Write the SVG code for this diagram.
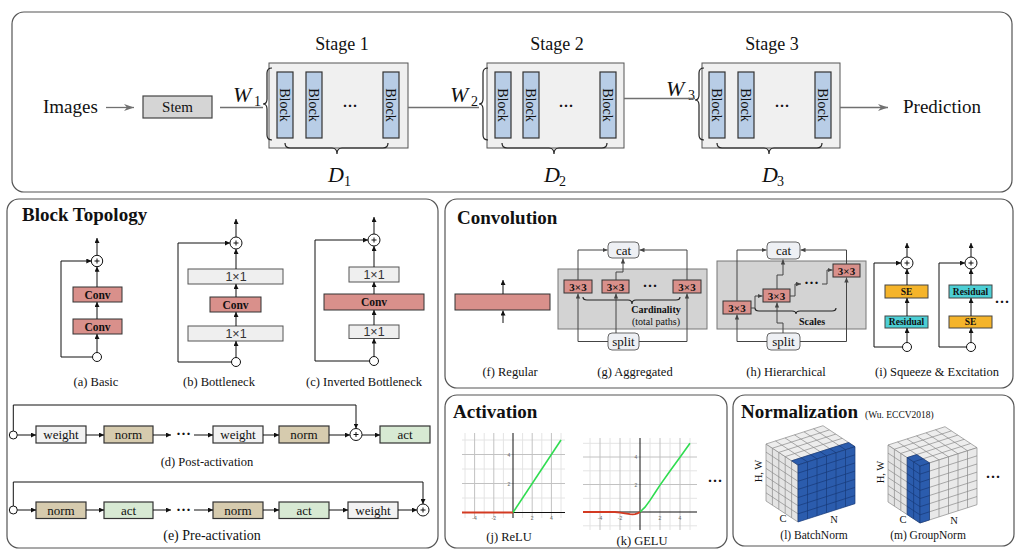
<svg xmlns="http://www.w3.org/2000/svg" width="1024" height="556" viewBox="0 0 1024 556">
<defs>
<style>
text{font-family:"Liberation Serif","Times New Roman",serif;fill:#111}
.panel{fill:#fff;stroke:#555;stroke-width:1.2}
.ttl{font-size:19px;font-weight:bold}
.cap{font-size:12.5px;text-anchor:middle}
.stage{fill:#f0f0f0;stroke:#555;stroke-width:1}
.blk{fill:#b8cde6;stroke:#333;stroke-width:1.2}
.btxt{font-size:14px;text-anchor:middle}
.gl{stroke:#707070;stroke-width:1.3;fill:none}
.brace{stroke:#222;stroke-width:1.2;fill:none}
.math{font-size:22px;font-style:italic}
.sub{font-size:14px}
.ln{stroke:#111;stroke-width:1;fill:none}
.dl{stroke:#444;stroke-width:1;fill:none}
.conv{fill:#d9908b;stroke:#333;stroke-width:1}
.one{fill:#efefef;stroke:#555;stroke-width:1}
.wt{fill:#f2f2f2;stroke:#333;stroke-width:1.2}
.nm{fill:#d6cbae;stroke:#333;stroke-width:1.2}
.ac{fill:#d7e9d3;stroke:#333;stroke-width:1.2}
.node{fill:#fff;stroke:#111;stroke-width:1}
.cs{fill:#eef0f4;stroke:#666;stroke-width:1}
.grey{fill:#d3d3d3;stroke:#777;stroke-width:1}
.ctxt{font-size:13px;text-anchor:middle}
.bt{font-size:11.5px;font-weight:bold;text-anchor:middle}
.t33{font-size:11px;font-weight:bold;text-anchor:middle}
.sans{font-family:"Liberation Sans",Arial,sans-serif;font-size:12.5px;text-anchor:middle;fill:#333}
.se{fill:#f5b42a;stroke:#444;stroke-width:1}
.res{fill:#4ccfd5;stroke:#444;stroke-width:1}
.st{font-size:9.5px;font-weight:bold;text-anchor:middle}
.dots{font-size:15px;font-weight:bold;text-anchor:middle}
.gmin{stroke:#e4e4e4;stroke-width:1}
.gmaj{stroke:#c2c2c2;stroke-width:1}
.ax{stroke:#111;stroke-width:1}
.tk{font-family:"Liberation Sans",Arial,sans-serif;font-size:5px;fill:#666;text-anchor:middle}
.grid{fill:none;vector-effect:non-scaling-stroke;stroke-width:0.7}
.fg{stroke:none}
.lbl{font-size:10.5px;text-anchor:middle}
</style>
<marker id="ag" markerWidth="10" markerHeight="7" refX="10" refY="3.5" orient="auto" markerUnits="userSpaceOnUse"><path d="M0,0 L10,3.5 L0,7 L3,3.5z" fill="#707070"/></marker>
<marker id="ab" markerWidth="5" markerHeight="5" refX="5" refY="2.5" orient="auto" markerUnits="userSpaceOnUse"><path d="M0,0 L5,2.5 L0,5z" fill="#111"/></marker>
<marker id="ad" markerWidth="5" markerHeight="5" refX="5" refY="2.5" orient="auto" markerUnits="userSpaceOnUse"><path d="M0,0.3 L5,2.5 L0,4.7z" fill="#444"/></marker>
<path id="g57" class="grid" d="M0,0V7M1,0V7M2,0V7M3,0V7M4,0V7M5,0V7M0,0H5M0,1H5M0,2H5M0,3H5M0,4H5M0,5H5M0,6H5M0,7H5"/>
<path id="g67" class="grid" d="M0,0V7M1,0V7M2,0V7M3,0V7M4,0V7M5,0V7M6,0V7M0,0H6M0,1H6M0,2H6M0,3H6M0,4H6M0,5H6M0,6H6M0,7H6"/>
<path id="g65" class="grid" d="M0,0V5M1,0V5M2,0V5M3,0V5M4,0V5M5,0V5M6,0V5M0,0H6M0,1H6M0,2H6M0,3H6M0,4H6M0,5H6"/>
<path id="g61" class="grid" d="M0,0V1M1,0V1M2,0V1M3,0V1M4,0V1M5,0V1M6,0V1M0,0H6M0,1H6"/>
<path id="g27" class="grid" d="M0,0V7M1,0V7M2,0V7M0,0H2M0,1H2M0,2H2M0,3H2M0,4H2M0,5H2M0,6H2M0,7H2"/>
<path id="g17" class="grid" d="M0,0V7M1,0V7M0,0H1M0,1H1M0,2H1M0,3H1M0,4H1M0,5H1M0,6H1M0,7H1"/>
<path id="g12" class="grid" d="M0,0V2M1,0V2M0,0H1M0,1H1M0,2H1"/>
</defs>
<rect width="1024" height="556" fill="#fff"/>

<!-- ================= TOP PANEL ================= -->
<g id="panel-macro">
<rect class="panel" x="12" y="12" width="1000" height="180" rx="12"/>
<g id="node-images"><text x="43" y="113" font-size="19">Images</text></g>
<g id="node-stem"><rect x="143" y="96" width="69" height="22" fill="#d5d5d5" stroke="#444" stroke-width="1.2"/><text x="177.5" y="112" font-size="15" text-anchor="middle">Stem</text></g>
<g id="node-stage1">
<rect class="stage" x="269" y="63" width="139" height="85"/>
<text x="342" y="50" font-size="18" text-anchor="middle">Stage 1</text>
<rect class="blk" x="277" y="72" width="16" height="66"/><rect class="blk" x="306" y="72" width="16" height="66"/><rect class="blk" x="383" y="72" width="16" height="66"/>
<text class="btxt" transform="translate(285,105) rotate(90)" y="5">Block</text>
<text class="btxt" transform="translate(314,105) rotate(90)" y="5">Block</text>
<text class="btxt" transform="translate(391,105) rotate(90)" y="5">Block</text>
<text class="dots" x="350" y="111">···</text>
<path class="brace" d="M272,68 Q267,68 267,73 L267,99 Q267,104 263,104 Q267,104 267,109 L267,135 Q267,140 272,140"/>
<path class="brace" d="M285,143 Q285,148 290,148 L332,148 Q337,148 337,154 Q337,148 342,148 L383,148 Q388,148 388,143"/>
<text class="math" x="233" y="102">W</text><text class="sub" x="254" y="106">1</text>
<text class="math" x="328" y="182">D</text><text class="sub" x="344" y="186">1</text>
</g>
<g id="node-stage2">
<rect class="stage" x="487" y="63" width="137" height="85"/>
<text x="557" y="50" font-size="18" text-anchor="middle">Stage 2</text>
<rect class="blk" x="495" y="72" width="16" height="66"/><rect class="blk" x="523" y="72" width="16" height="66"/><rect class="blk" x="600" y="72" width="16" height="66"/>
<text class="btxt" transform="translate(503,105) rotate(90)" y="5">Block</text>
<text class="btxt" transform="translate(531,105) rotate(90)" y="5">Block</text>
<text class="btxt" transform="translate(608,105) rotate(90)" y="5">Block</text>
<text class="dots" x="566" y="111">···</text>
<path class="brace" d="M488,68 Q483,68 483,73 L483,99 Q483,104 479,104 Q483,104 483,109 L483,135 Q483,140 488,140"/>
<path class="brace" d="M502,143 Q502,148 507,148 L549,148 Q554,148 554,154 Q554,148 559,148 L602,148 Q607,148 607,143"/>
<text class="math" x="450" y="102">W</text><text class="sub" x="471" y="106">2</text>
<text class="math" x="544" y="182">D</text><text class="sub" x="559" y="186">2</text>
</g>
<g id="node-stage3">
<rect class="stage" x="702" y="63" width="138" height="85"/>
<text x="772" y="50" font-size="18" text-anchor="middle">Stage 3</text>
<rect class="blk" x="709" y="72" width="16" height="66"/><rect class="blk" x="738" y="72" width="16" height="66"/><rect class="blk" x="815" y="72" width="16" height="66"/>
<text class="btxt" transform="translate(717,105) rotate(90)" y="5">Block</text>
<text class="btxt" transform="translate(746,105) rotate(90)" y="5">Block</text>
<text class="btxt" transform="translate(823,105) rotate(90)" y="5">Block</text>
<text class="dots" x="782" y="111">···</text>
<path class="brace" d="M704,68 Q699,68 699,73 L699,95 Q699,100 695,100 Q699,100 699,105 L699,135 Q699,140 704,140"/>
<path class="brace" d="M717,143 Q717,148 722,148 L764,148 Q769,148 769,154 Q769,148 774,148 L817,148 Q822,148 822,143"/>
<text class="math" x="666" y="96">W</text><text class="sub" x="688" y="100">3</text>
<text class="math" x="762" y="182">D</text><text class="sub" x="777" y="186">3</text>
</g>
<g id="node-prediction"><text x="903" y="113" font-size="19">Prediction</text></g>
<g id="connectors-macro">
<line class="gl" x1="106" y1="107.5" x2="134" y2="107.5" marker-end="url(#ag)"/>
<line class="gl" x1="220" y1="107.5" x2="263" y2="107.5"/>
<line class="gl" x1="408" y1="107.5" x2="479" y2="107.5"/>
<line class="gl" x1="624" y1="98.5" x2="695" y2="98.5"/>
<line class="gl" x1="840" y1="107.5" x2="888" y2="107.5" marker-end="url(#ag)"/>
</g>
</g>

<!-- ================= BLOCK TOPOLOGY ================= -->
<g id="panel-topology">
<rect class="panel" x="7" y="199" width="431" height="349" rx="12"/>
<text class="ttl" x="22" y="221">Block Topology</text>
<g id="node-basic">
<rect class="conv" x="73" y="287" width="49" height="15"/><text class="bt" x="97.5" y="298.5">Conv</text>
<rect class="conv" x="73" y="319" width="49" height="15"/><text class="bt" x="97.5" y="330.5">Conv</text>
<circle class="node" cx="97" cy="261" r="5.7"/><path class="ln" d="M94.5,261H99.5M97,258.5V263.5"/>
<circle class="node" cx="97" cy="357" r="4.5"/>
<text class="cap" x="96" y="386">(a) Basic</text>
</g>
<g id="node-bottleneck">
<rect class="one" x="188" y="269" width="95" height="15"/><text class="sans" x="236" y="281">1×1</text>
<rect class="conv" x="210" y="297" width="51" height="15"/><text class="bt" x="235.5" y="308.5">Conv</text>
<rect class="one" x="188" y="326" width="95" height="15"/><text class="sans" x="236" y="338">1×1</text>
<circle class="node" cx="236" cy="243" r="6"/><path class="ln" d="M233.5,243H238.5M236,240.5V245.5"/>
<circle class="node" cx="236" cy="362" r="4.5"/>
<text class="cap" x="219" y="386">(b) Bottleneck</text>
</g>
<g id="node-inverted">
<rect class="one" x="349" y="267" width="50" height="15"/><text class="sans" x="374" y="279">1×1</text>
<rect class="conv" x="324" y="294" width="100" height="16"/><text class="bt" x="374" y="306">Conv</text>
<rect class="one" x="349" y="325" width="50" height="13.5"/><text class="sans" x="374" y="336.3">1×1</text>
<circle class="node" cx="374" cy="240" r="6"/><path class="ln" d="M371.5,240H376.5M374,237.5V242.5"/>
<circle class="node" cx="374" cy="361" r="4.5"/>
<text class="cap" x="364" y="386">(c) Inverted Bottleneck</text>
</g>
<g id="node-post">
<circle class="node" cx="13.3" cy="435" r="4"/>
<rect class="wt" x="36" y="426" width="50" height="17"/><text class="ctxt" x="61" y="439">weight</text>
<rect class="nm" x="104" y="426" width="49" height="17"/><text class="ctxt" x="128.5" y="439">norm</text>
<text class="dots" x="183.5" y="439">···</text>
<rect class="wt" x="213" y="426" width="50" height="17"/><text class="ctxt" x="238" y="439">weight</text>
<rect class="nm" x="279" y="426" width="50" height="17"/><text class="ctxt" x="304" y="439">norm</text>
<circle class="node" cx="356" cy="434.5" r="6"/><path class="ln" d="M353.5,434.5H358.5M356,432V437"/>
<rect class="ac" x="380" y="426" width="50" height="17"/><text class="ctxt" x="405" y="439">act</text>
<text class="cap" x="207" y="466">(d) Post-activation</text>
</g>
<g id="node-pre">
<circle class="node" cx="13.3" cy="510" r="4"/>
<rect class="nm" x="36" y="502" width="50" height="16.5"/><text class="ctxt" x="61" y="514.5">norm</text>
<rect class="ac" x="104" y="502" width="49" height="16.5"/><text class="ctxt" x="128.5" y="514.5">act</text>
<text class="dots" x="183.5" y="514.5">···</text>
<rect class="nm" x="213" y="502" width="50" height="16.5"/><text class="ctxt" x="238" y="514.5">norm</text>
<rect class="ac" x="279" y="502" width="50" height="16.5"/><text class="ctxt" x="304" y="514.5">act</text>
<rect class="wt" x="348" y="502" width="50" height="16.5"/><text class="ctxt" x="373" y="514.5">weight</text>
<circle class="node" cx="423" cy="510" r="6"/><path class="ln" d="M420.5,510H425.5M423,507.5V512.5"/>
<text x="212" y="540" font-size="14" text-anchor="middle">(e) Pre-activation</text>
</g>
<g id="connectors-topology">
<path class="ln" d="M97,255.3V238" marker-end="url(#ab)"/>
<path class="ln" d="M97,287V266.7" marker-end="url(#ab)"/>
<path class="ln" d="M97,319V302" marker-end="url(#ab)"/>
<path class="ln" d="M97,352.5V334" marker-end="url(#ab)"/>
<path class="ln" d="M92.5,357H61V261H91.3" marker-end="url(#ab)"/>
<path class="ln" d="M236,237V219" marker-end="url(#ab)"/>
<path class="ln" d="M236,269V249" marker-end="url(#ab)"/>
<path class="ln" d="M236,297V284" marker-end="url(#ab)"/>
<path class="ln" d="M236,326V312" marker-end="url(#ab)"/>
<path class="ln" d="M236,357.5V341" marker-end="url(#ab)"/>
<path class="ln" d="M231.5,362H178V243H230" marker-end="url(#ab)"/>
<path class="ln" d="M374,234V217" marker-end="url(#ab)"/>
<path class="ln" d="M374,267V246" marker-end="url(#ab)"/>
<path class="ln" d="M374,294V282" marker-end="url(#ab)"/>
<path class="ln" d="M374,325V310" marker-end="url(#ab)"/>
<path class="ln" d="M374,356.5V338.5" marker-end="url(#ab)"/>
<path class="ln" d="M369.5,361H315V240H368" marker-end="url(#ab)"/>
<path class="ln" d="M17.3,435H36" marker-end="url(#ab)"/>
<path class="ln" d="M86,435H104" marker-end="url(#ab)"/>
<path class="ln" d="M153,435H171" marker-end="url(#ab)"/>
<path class="ln" d="M194,435H213" marker-end="url(#ab)"/>
<path class="ln" d="M263,435H279" marker-end="url(#ab)"/>
<path class="ln" d="M329,435H350" marker-end="url(#ab)"/>
<path class="ln" d="M362,435H380" marker-end="url(#ab)"/>
<path class="ln" d="M13.3,431V405H356V428.5" marker-end="url(#ab)"/>
<path class="ln" d="M17.3,510H36" marker-end="url(#ab)"/>
<path class="ln" d="M86,510H104" marker-end="url(#ab)"/>
<path class="ln" d="M153,510H171" marker-end="url(#ab)"/>
<path class="ln" d="M194,510H213" marker-end="url(#ab)"/>
<path class="ln" d="M263,510H279" marker-end="url(#ab)"/>
<path class="ln" d="M329,510H348" marker-end="url(#ab)"/>
<path class="ln" d="M398,510H417" marker-end="url(#ab)"/>
<path class="ln" d="M13.3,506V482H423V504" marker-end="url(#ab)"/>
</g>
</g>

<!-- ================= CONVOLUTION ================= -->
<g id="panel-convolution">
<rect class="panel" x="445" y="199" width="568" height="189" rx="12"/>
<text class="ttl" x="457" y="224">Convolution</text>
<g id="node-regular">
<rect class="conv" x="455" y="294" width="95" height="16"/>
<text class="cap" x="510" y="376">(f) Regular</text>
</g>
<g id="node-aggregated">
<rect class="grey" x="558" y="269" width="149" height="60"/>
<rect class="cs" x="608" y="242" width="31" height="16" rx="4"/><text class="ctxt" x="623.5" y="254.5">cat</text>
<rect class="conv" x="564" y="280" width="28" height="13"/><text class="t33" x="578" y="290.5">3×3</text>
<rect class="conv" x="602" y="280" width="27" height="13"/><text class="t33" x="615.5" y="290.5">3×3</text>
<rect class="conv" x="673" y="280" width="28" height="13"/><text class="t33" x="687" y="290.5">3×3</text>
<text class="dots" x="650" y="291" font-size="12">···</text>
<path class="brace" d="M583,297 Q583,300 587,300 L628,300 Q632,300 632,304 Q632,300 636,300 L676,300 Q680,300 680,297"/>
<text x="656" y="313" font-size="10" font-weight="bold" text-anchor="middle">Cardinality</text>
<text x="656" y="325" font-size="10" text-anchor="middle">(total paths)</text>
<rect class="cs" x="608" y="333" width="31" height="17" rx="4"/><text class="ctxt" x="623.5" y="345.5">split</text>
<text class="cap" x="635" y="376">(g) Aggregated</text>
</g>
<g id="node-hierarchical">
<rect class="grey" x="717" y="261" width="149" height="68"/>
<rect class="cs" x="767" y="242" width="33" height="17" rx="4"/><text class="ctxt" x="783.5" y="254.5">cat</text>
<rect class="cs" x="767" y="333" width="33" height="17" rx="4"/><text class="ctxt" x="783.5" y="345.5">split</text>
<rect class="conv" x="723" y="301" width="28" height="13"/><text class="t33" x="737" y="311.5">3×3</text>
<rect class="conv" x="763" y="289" width="27" height="13"/><text class="t33" x="776.5" y="299.5">3×3</text>
<rect class="conv" x="833" y="264" width="27" height="13"/><text class="t33" x="846.5" y="274.5">3×3</text>
<text class="dots" x="811.5" y="288" font-size="12">···</text>
<path class="brace" d="M755,308 Q755,311 759,311 L792,311 Q796,311 796,314 Q796,311 800,311 L832,311 Q836,311 836,308"/>
<text x="812" y="325" font-size="10" font-weight="bold" text-anchor="middle">Scales</text>
<text class="cap" x="786" y="376">(h) Hierarchical</text>
</g>
<g id="node-se">
<circle class="node" cx="907" cy="263" r="6"/><path class="ln" d="M904.5,263H909.5M907,260.5V265.5"/>
<rect class="se" x="885" y="285" width="43" height="13"/><text class="st" x="906.5" y="295">SE</text>
<rect class="res" x="885" y="316" width="43" height="12"/><text class="st" x="906.5" y="325.3">Residual</text>
<circle class="node" cx="907" cy="347" r="4.5"/>
<circle class="node" cx="971" cy="263" r="6"/><path class="ln" d="M968.5,263H973.5M971,260.5V265.5"/>
<rect class="res" x="949" y="285" width="43" height="13"/><text class="st" x="970.5" y="295">Residual</text>
<rect class="se" x="949" y="316" width="43" height="12"/><text class="st" x="970.5" y="325.3">SE</text>
<circle class="node" cx="971" cy="347" r="4.5"/>
<text class="dots" x="1002" y="307">···</text>
<text class="cap" x="937" y="376">(i) Squeeze &amp; Excitation</text>
</g>
<g id="connectors-convolution">
<path class="ln" d="M503,323V310.5" marker-end="url(#ab)"/>
<path class="ln" d="M503,294V280" marker-end="url(#ab)"/>
<path class="dl" d="M608,341.5H578V293.5" marker-end="url(#ad)"/>
<path class="dl" d="M578,280V250H607.5" marker-end="url(#ad)"/>
<path class="dl" d="M639,341.5H687V293.5" marker-end="url(#ad)"/>
<path class="dl" d="M687,280V250H639.5" marker-end="url(#ad)"/>
<path class="dl" d="M616,333V293.5" marker-end="url(#ad)"/>
<path class="dl" d="M616,280V272H623V258.5" marker-end="url(#ad)"/>
<path class="dl" d="M767,341.5H737V314.5" marker-end="url(#ad)"/>
<path class="dl" d="M737,301V250H766.5" marker-end="url(#ad)"/>
<path class="dl" d="M800,341.5H846.5V277.5" marker-end="url(#ad)"/>
<path class="dl" d="M846.5,264V250H800.5" marker-end="url(#ad)"/>
<path class="dl" d="M783,333V323H777V302.5" marker-end="url(#ad)"/>
<path class="dl" d="M777,289V275H783V259.5" marker-end="url(#ad)"/>
<path class="dl" d="M751,308H755V296H762.5" marker-end="url(#ad)"/>
<path class="dl" d="M790,296H795V284H801" marker-end="url(#ad)"/>
<path class="dl" d="M822,284H827V270H832.5" marker-end="url(#ad)"/>
<path class="ln" d="M907,257V243" marker-end="url(#ab)"/>
<path class="ln" d="M907,285V269" marker-end="url(#ab)"/>
<path class="ln" d="M907,316V298" marker-end="url(#ab)"/>
<path class="ln" d="M907,342.5V328" marker-end="url(#ab)"/>
<path class="ln" d="M902.5,347H874V263H901" marker-end="url(#ab)"/>
<path class="ln" d="M971,257V243" marker-end="url(#ab)"/>
<path class="ln" d="M971,285V269" marker-end="url(#ab)"/>
<path class="ln" d="M971,316V298" marker-end="url(#ab)"/>
<path class="ln" d="M971,342.5V328" marker-end="url(#ab)"/>
<path class="ln" d="M966.5,347H939V263H965" marker-end="url(#ab)"/>
</g>
</g>

<!-- ================= ACTIVATION ================= -->
<g id="panel-activation">
<rect class="panel" x="445" y="395" width="282" height="153" rx="12"/>
<text class="ttl" x="453" y="418">Activation</text>
<g id="node-relu">
<g class="gmin">
<line x1="465" y1="433" x2="465" y2="518"/><line x1="484.2" y1="433" x2="484.2" y2="518"/><line x1="503.4" y1="433" x2="503.4" y2="518"/><line x1="522.6" y1="433" x2="522.6" y2="518"/><line x1="541.8" y1="433" x2="541.8" y2="518"/><line x1="561" y1="433" x2="561" y2="518"/>
<line x1="462" y1="440" x2="565" y2="440"/><line x1="462" y1="469" x2="565" y2="469"/><line x1="462" y1="498" x2="565" y2="498"/>
</g>
<g class="gmaj">
<line x1="474.6" y1="433" x2="474.6" y2="518"/><line x1="493.8" y1="433" x2="493.8" y2="518"/><line x1="532.2" y1="433" x2="532.2" y2="518"/><line x1="551.4" y1="433" x2="551.4" y2="518"/>
<line x1="462" y1="454.5" x2="565" y2="454.5"/><line x1="462" y1="483.5" x2="565" y2="483.5"/>
</g>
<line class="ax" x1="513" y1="433" x2="513" y2="518"/>
<line class="ax" x1="462" y1="512.5" x2="565" y2="512.5"/>
<text class="tk" x="474.6" y="520">-4</text><text class="tk" x="493.8" y="520">-2</text><text class="tk" x="532.2" y="520">2</text><text class="tk" x="551.4" y="520">4</text>
<text class="tk" x="509" y="485.5">2</text><text class="tk" x="509" y="456.5">4</text>
<path d="M462,512.5H513" stroke="#d33a22" stroke-width="1.8" fill="none"/>
<path d="M513,512.5L561,440" stroke="#2fdc50" stroke-width="1.6" fill="none"/>
<text class="cap" x="509" y="541">(j) ReLU</text>
</g>
<g id="node-gelu">
<g class="gmin">
<line x1="590" y1="438" x2="590" y2="530"/><line x1="610" y1="438" x2="610" y2="530"/><line x1="630" y1="438" x2="630" y2="530"/><line x1="650" y1="438" x2="650" y2="530"/><line x1="670" y1="438" x2="670" y2="530"/><line x1="690" y1="438" x2="690" y2="530"/>
<line x1="583" y1="443.3" x2="697" y2="443.3"/><line x1="583" y1="470.8" x2="697" y2="470.8"/><line x1="583" y1="498.3" x2="697" y2="498.3"/><line x1="583" y1="525.8" x2="697" y2="525.8"/>
</g>
<g class="gmaj">
<line x1="600" y1="438" x2="600" y2="530"/><line x1="620" y1="438" x2="620" y2="530"/><line x1="660" y1="438" x2="660" y2="530"/><line x1="680" y1="438" x2="680" y2="530"/>
<line x1="583" y1="457" x2="697" y2="457"/><line x1="583" y1="484.5" x2="697" y2="484.5"/>
</g>
<line class="ax" x1="640" y1="438" x2="640" y2="530"/>
<line class="ax" x1="583" y1="512" x2="697" y2="512"/>
<text class="tk" x="600" y="520">-4</text><text class="tk" x="620" y="520">-2</text><text class="tk" x="660" y="520">2</text><text class="tk" x="680" y="520">4</text>
<text class="tk" x="636" y="486.5">2</text><text class="tk" x="636" y="459">4</text>
<path d="M583,512L615,512L620,512.6L625,513.4L630,514.2L632.5,514.3L635,514.1L637.5,513.4L640,512" stroke="#d33a22" stroke-width="1.8" fill="none"/>
<path d="M640,512L645,507.2L650,500.4L655,492.8L660,485.1L670,471L680,457.2L690,443.3" stroke="#2fdc50" stroke-width="1.6" fill="none"/>
<text class="cap" x="642" y="545">(k) GELU</text>
</g>
<text class="dots" x="715" y="486">···</text>
</g>

<!-- ================= NORMALIZATION ================= -->
<g id="panel-normalization">
<rect class="panel" x="733" y="395" width="281" height="151" rx="12"/>
<text class="ttl" x="741" y="418">Normalization</text>
<text x="865" y="418" font-size="9.5">(Wu. ECCV2018)</text>
<g id="node-batchnorm">
<rect class="fg" x="0" y="0" width="5" height="7" fill="#e4e4e4" transform="matrix(-6.4,-4.2,0,8.14,798,465)"/>
<use href="#g57" stroke="#8a8a8a" transform="matrix(-6.4,-4.2,0,8.14,798,465)"/>
<rect class="fg" x="0" y="0" width="6" height="5" fill="#ededed" transform="matrix(9.5,-3.05,-6.4,-4.2,798,465)"/>
<use href="#g65" stroke="#8a8a8a" transform="matrix(9.5,-3.05,-6.4,-4.2,798,465)"/>
<rect class="fg" x="0" y="0" width="6" height="1" fill="#2b5cad" transform="matrix(9.5,-3.05,-6.4,-4.2,798,465)"/>
<use href="#g61" stroke="#173a78" transform="matrix(9.5,-3.05,-6.4,-4.2,798,465)"/>
<rect class="fg" x="0" y="0" width="6" height="7" fill="#2b5cad" transform="matrix(9.5,-3.05,0,8.14,798,465)"/>
<use href="#g67" stroke="#173a78" transform="matrix(9.5,-3.05,0,8.14,798,465)"/>
<text class="lbl" transform="translate(761.5,471) rotate(-90)">H, W</text>
<text class="lbl" x="783" y="522">C</text>
<text class="lbl" x="834" y="523">N</text>
<text x="814" y="539" font-size="11.5" text-anchor="middle">(l) BatchNorm</text>
</g>
<g id="node-groupnorm">
<rect class="fg" x="0" y="0" width="5" height="7" fill="#e4e4e4" transform="matrix(-6.4,-4.2,0,8.14,920,466)"/>
<use href="#g57" stroke="#8a8a8a" transform="matrix(-6.4,-4.2,0,8.14,920,466)"/>
<rect class="fg" x="0" y="0" width="6" height="5" fill="#ededed" transform="matrix(9.5,-3.05,-6.4,-4.2,920,466)"/>
<use href="#g65" stroke="#8a8a8a" transform="matrix(9.5,-3.05,-6.4,-4.2,920,466)"/>
<rect class="fg" x="0" y="0" width="6" height="7" fill="#e9e9e9" transform="matrix(9.5,-3.05,0,8.14,920,466)"/>
<use href="#g67" stroke="#8a8a8a" transform="matrix(9.5,-3.05,0,8.14,920,466)"/>
<rect class="fg" x="0" y="0" width="2" height="7" fill="#2b5cad" transform="matrix(-6.4,-4.2,0,8.14,920,466)"/>
<use href="#g27" stroke="#173a78" transform="matrix(-6.4,-4.2,0,8.14,920,466)"/>
<rect class="fg" x="0" y="0" width="1" height="7" fill="#2b5cad" transform="matrix(9.5,-3.05,0,8.14,920,466)"/>
<use href="#g17" stroke="#173a78" transform="matrix(9.5,-3.05,0,8.14,920,466)"/>
<rect class="fg" x="0" y="0" width="1" height="2" fill="#2b5cad" transform="matrix(9.5,-3.05,-6.4,-4.2,920,466)"/>
<use href="#g12" stroke="#173a78" transform="matrix(9.5,-3.05,-6.4,-4.2,920,466)"/>
<text class="lbl" transform="translate(883.5,472) rotate(-90)">H, W</text>
<text class="lbl" x="903" y="523">C</text>
<text class="lbl" x="954" y="524">N</text>
<text x="928" y="539" font-size="11.5" text-anchor="middle">(m) GroupNorm</text>
</g>
<text class="dots" x="993" y="482">···</text>
</g>
</svg>
